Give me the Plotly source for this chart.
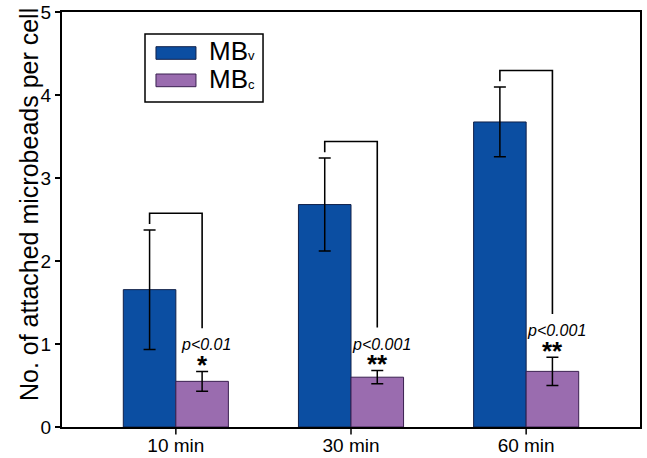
import plotly.graph_objects as go

# ---- data ----
categories = ["10 min", "30 min", "60 min"]
mbv_mean = [1.655, 2.68, 3.675]
mbv_err = [0.72, 0.56, 0.42]
mbc_mean = [0.55, 0.60, 0.67]
mbc_err = [0.12, 0.08, 0.17]
p_labels = ["p<0.01", "p<0.001", "p<0.001"]
stars = ["*", "**", "**"]
series_names = ["MB", "MB"]
series_subs = ["v", "c"]

BLUE = "#0b4ea2"
PURPLE = "#9a6caf"
FONT = "Arial, 'Liberation Sans', sans-serif"

xpos = list(range(len(categories)))
XRANGE = [-0.65, 2.65]

fig = go.Figure()
fig.add_trace(go.Bar(
    x=xpos, y=mbv_mean, name="MBv", showlegend=False,
    marker=dict(color=BLUE, line=dict(color="#10204a", width=1)),
    error_y=dict(type="data", array=mbv_err, color="black", thickness=1.5, width=6),
))
fig.add_trace(go.Bar(
    x=xpos, y=mbc_mean, name="MBc", showlegend=False,
    marker=dict(color=PURPLE, line=dict(color="#3a2050", width=1)),
    error_y=dict(type="data", array=mbc_err, color="black", thickness=1.5, width=6),
))

half = 0.15  # half of each bar's width in category units (bargap 0.4, 2 bars)
shapes = []
annotations = []
for i in xpos:
    xl = i - half
    xr = i + half
    blue_hi = mbv_mean[i] + mbv_err[i]
    purp_hi = mbc_mean[i] + mbc_err[i]
    top = blue_hi + 0.2
    shapes.append(dict(
        type="path", xref="x", yref="y",
        path=f"M {xl},{blue_hi + 0.07} L {xl},{top} L {xr},{top} L {xr},{purp_hi + 0.52}",
        line=dict(color="black", width=1.6),
    ))
    annotations.append(dict(
        x=xr, y=purp_hi + 0.32, xref="x", yref="y", text=f"<i>{p_labels[i]}</i>",
        showarrow=False, xshift=4, font=dict(family=FONT, size=16, color="black"),
    ))
    annotations.append(dict(
        x=xr, y=purp_hi + 0.08, xref="x", yref="y", text=f"<b>{stars[i]}</b>",
        showarrow=False, font=dict(family=FONT, size=26, color="black"),
    ))
    # category tick mark below the x axis (outside the plot area, so paper refs)
    px = (i - XRANGE[0]) / (XRANGE[1] - XRANGE[0])
    shapes.append(dict(type="line", xref="paper", yref="paper", x0=px, x1=px,
                       y0=0, y1=-0.018, line=dict(color="black", width=1.5)))

# legend (drawn manually to match the wide swatches)
shapes.append(dict(type="rect", xref="paper", yref="paper", x0=0.1436, x1=0.3478,
                   y0=0.783, y1=0.947, line=dict(color="black", width=1.5),
                   fillcolor="white"))
swatch_y = [(0.886, 0.9164), (0.82, 0.8506)]
swatch_col = [(BLUE, "#10204a"), (PURPLE, "#3a2050")]
text_y = [0.907, 0.839]
sub_y = [0.895, 0.8255]
for k in range(2):
    shapes.append(dict(type="rect", xref="paper", yref="paper", x0=0.1626, x1=0.2318,
                       y0=swatch_y[k][0], y1=swatch_y[k][1],
                       line=dict(color=swatch_col[k][1], width=1),
                       fillcolor=swatch_col[k][0]))
    annotations.append(dict(x=0.251, y=text_y[k], xref="paper", yref="paper",
                            text=series_names[k], showarrow=False, xanchor="left",
                            yanchor="middle",
                            font=dict(family=FONT, size=26, color="black")))
    annotations.append(dict(x=0.3185, y=sub_y[k], xref="paper", yref="paper",
                            text=series_subs[k], showarrow=False, xanchor="left",
                            yanchor="middle",
                            font=dict(family=FONT, size=13, color="black")))

annotations.append(dict(x=-0.057, y=0.535, xref="paper", yref="paper",
                        xanchor="center", yanchor="middle",
                        text="No. of attached microbeads per cell", textangle=-90,
                        showarrow=False, font=dict(family=FONT, size=25, color="black")))

fig.update_layout(
    width=647, height=458,
    margin=dict(l=62, r=7, t=12, b=31),
    paper_bgcolor="white", plot_bgcolor="white",
    barmode="group", bargap=0.4, bargroupgap=0,
    shapes=shapes, annotations=annotations,
    font=dict(family=FONT, color="black"),
)
fig.update_xaxes(
    range=XRANGE, tickmode="array", tickvals=xpos, ticktext=categories,
    ticks="", showline=True, linecolor="black", linewidth=2, mirror=True,
    automargin=False, showgrid=False, zeroline=False,
    tickfont=dict(family=FONT, size=19, color="black"),
)
fig.update_yaxes(
    range=[0, 5], dtick=1, ticks="outside", ticklen=5, tickwidth=1.5, tickcolor="black",
    showline=True, linecolor="black", linewidth=2, mirror=True, automargin=False,
    showgrid=False, zeroline=False, tickfont=dict(family=FONT, size=19, color="black"),
)

fig.write_html("out.html", config={"displayModeBar": False},
               post_script="document.body.style.margin='0';")
